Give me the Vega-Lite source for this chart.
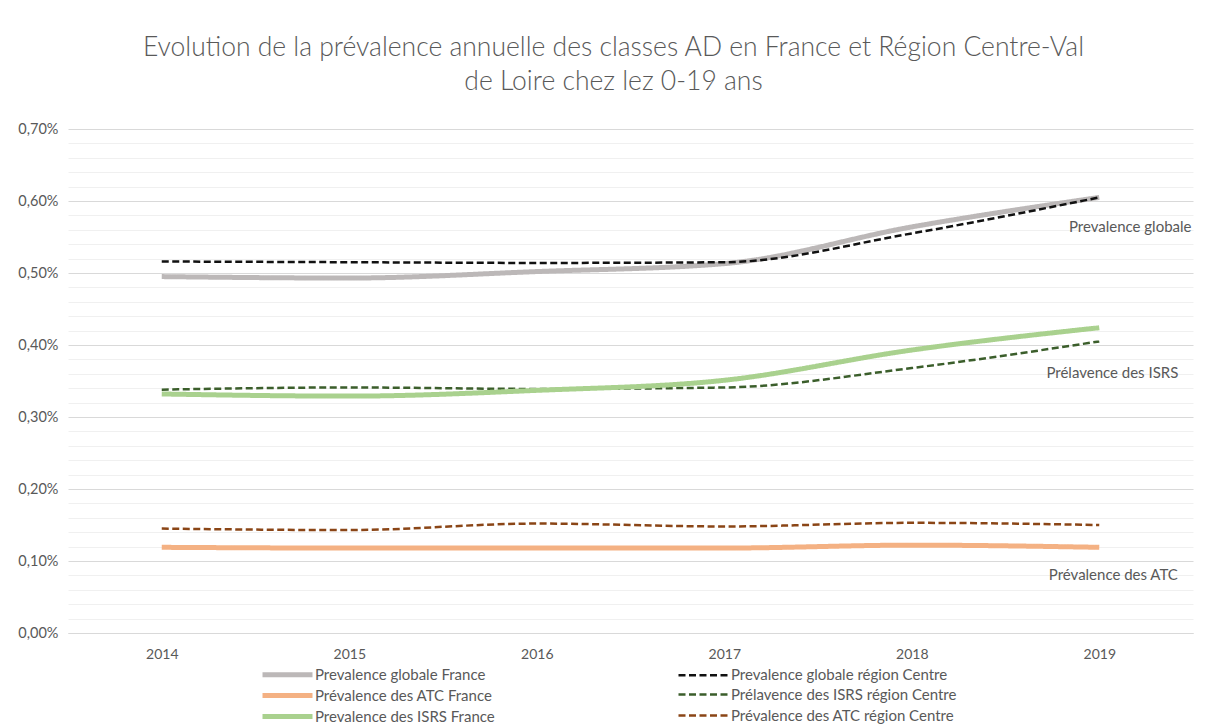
{
  "$schema": "https://vega.github.io/schema/vega-lite/v6.json",
  "width": 1125,
  "height": 504,
  "autosize": {"type": "none"},
  "padding": {"left": 68, "top": 129, "right": 15, "bottom": 93},
  "background": "white",
  "config": {
    "font": "Lato",
    "view": {"stroke": null}
  },
  "title": {
    "text": ["Evolution de la prévalence annuelle des classes AD en France et Région Centre-Val", "de Loire chez lez 0-19 ans"],
    "font": "Lato",
    "fontSize": 26.5,
    "fontWeight": 300,
    "color": "#595959",
    "anchor": "middle",
    "frame": "group",
    "lineHeight": 34,
    "offset": 26,
    "dx": -17
  },
  "resolve": {"axis": {"y": "independent"}},
  "layer": [
    {
      "data": {
        "values": [
          {"year": 2019.165, "value": 0.00564, "label": "Prevalence globale"},
          {"year": 2019.07, "value": 0.00361, "label": "Prélavence des ISRS"},
          {"year": 2019.075, "value": 0.00081, "label": "Prévalence des ATC"}
        ]
      },
      "mark": {"type": "text", "fontSize": 15, "color": "#595959", "align": "center", "baseline": "middle", "font": "Lato"},
      "encoding": {
        "x": {"field": "year", "type": "quantitative"},
        "y": {
          "field": "value",
          "type": "quantitative",
          "axis": {
            "title": null,
            "values": [0.0002, 0.0004, 0.0006, 0.0008, 0.0012, 0.0014, 0.0016, 0.0018, 0.0022, 0.0024, 0.0026, 0.0028, 0.0032, 0.0034, 0.0036, 0.0038, 0.0042, 0.0044, 0.0046, 0.0048, 0.0052, 0.0054, 0.0056, 0.0058, 0.0062, 0.0064, 0.0066, 0.0068],
            "labels": false,
            "ticks": false,
            "domain": false,
            "grid": true,
            "gridColor": "#f0f0f0",
            "gridWidth": 1,
            "orient": "left"
          }
        },
        "text": {"field": "label"}
      }
    },
    {
      "data": {
        "values": [
          {"year": 2014, "serie": "Prevalence globale France", "value": 0.00495},
          {"year": 2015, "serie": "Prevalence globale France", "value": 0.00493},
          {"year": 2016, "serie": "Prevalence globale France", "value": 0.00502},
          {"year": 2017, "serie": "Prevalence globale France", "value": 0.00513},
          {"year": 2018, "serie": "Prevalence globale France", "value": 0.00564},
          {"year": 2019, "serie": "Prevalence globale France", "value": 0.00605},
          {"year": 2014, "serie": "Prevalence globale région Centre", "value": 0.00516},
          {"year": 2015, "serie": "Prevalence globale région Centre", "value": 0.00515},
          {"year": 2016, "serie": "Prevalence globale région Centre", "value": 0.00514},
          {"year": 2017, "serie": "Prevalence globale région Centre", "value": 0.00515},
          {"year": 2018, "serie": "Prevalence globale région Centre", "value": 0.00555},
          {"year": 2019, "serie": "Prevalence globale région Centre", "value": 0.00605},
          {"year": 2014, "serie": "Prévalence des ATC France", "value": 0.00119},
          {"year": 2015, "serie": "Prévalence des ATC France", "value": 0.00118},
          {"year": 2016, "serie": "Prévalence des ATC France", "value": 0.00118},
          {"year": 2017, "serie": "Prévalence des ATC France", "value": 0.00118},
          {"year": 2018, "serie": "Prévalence des ATC France", "value": 0.00122},
          {"year": 2019, "serie": "Prévalence des ATC France", "value": 0.00119},
          {"year": 2014, "serie": "Prélavence des ISRS région Centre", "value": 0.00338},
          {"year": 2015, "serie": "Prélavence des ISRS région Centre", "value": 0.00341},
          {"year": 2016, "serie": "Prélavence des ISRS région Centre", "value": 0.00339},
          {"year": 2017, "serie": "Prélavence des ISRS région Centre", "value": 0.00341},
          {"year": 2018, "serie": "Prélavence des ISRS région Centre", "value": 0.00368},
          {"year": 2019, "serie": "Prélavence des ISRS région Centre", "value": 0.00405},
          {"year": 2014, "serie": "Prevalence des ISRS France", "value": 0.00332},
          {"year": 2015, "serie": "Prevalence des ISRS France", "value": 0.00329},
          {"year": 2016, "serie": "Prevalence des ISRS France", "value": 0.00337},
          {"year": 2017, "serie": "Prevalence des ISRS France", "value": 0.00351},
          {"year": 2018, "serie": "Prevalence des ISRS France", "value": 0.00393},
          {"year": 2019, "serie": "Prevalence des ISRS France", "value": 0.00424},
          {"year": 2014, "serie": "Prévalence des ATC région Centre", "value": 0.00145},
          {"year": 2015, "serie": "Prévalence des ATC région Centre", "value": 0.00143},
          {"year": 2016, "serie": "Prévalence des ATC région Centre", "value": 0.00152},
          {"year": 2017, "serie": "Prévalence des ATC région Centre", "value": 0.00148},
          {"year": 2018, "serie": "Prévalence des ATC région Centre", "value": 0.00153},
          {"year": 2019, "serie": "Prévalence des ATC région Centre", "value": 0.00150}
        ]
      },
      "mark": {"type": "line", "interpolate": "monotone", "strokeCap": "butt"},
      "encoding": {
        "x": {
          "field": "year",
          "type": "quantitative",
          "scale": {"domain": [2013.5, 2019.5], "nice": false, "zero": false},
          "axis": {
            "title": null,
            "values": [2014, 2015, 2016, 2017, 2018, 2019],
            "format": "d",
            "grid": false,
            "ticks": false,
            "domain": true,
            "domainColor": "#d9d9d9",
            "domainWidth": 1,
            "labelFontSize": 14,
            "labelColor": "#595959",
            "labelPadding": 14
          }
        },
        "y": {
          "field": "value",
          "type": "quantitative",
          "scale": {"domain": [0, 0.007], "nice": false},
          "axis": {
            "title": null,
            "values": [0, 0.001, 0.002, 0.003, 0.004, 0.005, 0.006, 0.007],
            "labelExpr": "replace(format(datum.value, '.2%'), '.', ',')",
            "labelOverlap": false,
            "grid": true,
            "gridColor": "#d9d9d9",
            "gridWidth": 1,
            "ticks": false,
            "domain": false,
            "labelFontSize": 14.5,
            "labelColor": "#595959",
            "labelPadding": 10,
            "orient": "left"
          }
        },
        "color": {
          "field": "serie",
          "type": "nominal",
          "scale": {
            "domain": ["Prevalence globale France", "Prévalence des ATC France", "Prevalence des ISRS France", "Prevalence globale région Centre", "Prélavence des ISRS région Centre", "Prévalence des ATC région Centre"],
            "range": ["#bcb8b8", "#f4b183", "#a9d18e", "#111111", "#3b5e2b", "#8a4516"]
          },
          "legend": {
            "title": null,
            "orient": "none",
            "legendX": 192,
            "legendY": 535,
            "columns": 2,
            "columnPadding": 178,
            "rowPadding": -5,
            "symbolType": "M-1,0H5.25",
            "symbolSize": 256,
            "labelFontSize": 15,
            "labelColor": "#595959",
            "labelOffset": 34,
            "labelLimit": 400
          }
        },
        "strokeDash": {
          "field": "serie",
          "type": "nominal",
          "scale": {
            "domain": ["Prevalence globale France", "Prévalence des ATC France", "Prevalence des ISRS France", "Prevalence globale région Centre", "Prélavence des ISRS région Centre", "Prévalence des ATC région Centre"],
            "range": [[1, 0], [1, 0], [1, 0], [7, 3.5], [7, 3.5], [7, 3.5]]
          }
        },
        "strokeWidth": {
          "field": "serie",
          "type": "nominal",
          "scale": {
            "type": "ordinal",
            "domain": ["Prevalence globale France", "Prévalence des ATC France", "Prevalence des ISRS France", "Prevalence globale région Centre", "Prélavence des ISRS région Centre", "Prévalence des ATC région Centre"],
            "range": [5, 5, 5, 2.5, 2.5, 2.5]
          }
        }
      }
    }
  ]
}
